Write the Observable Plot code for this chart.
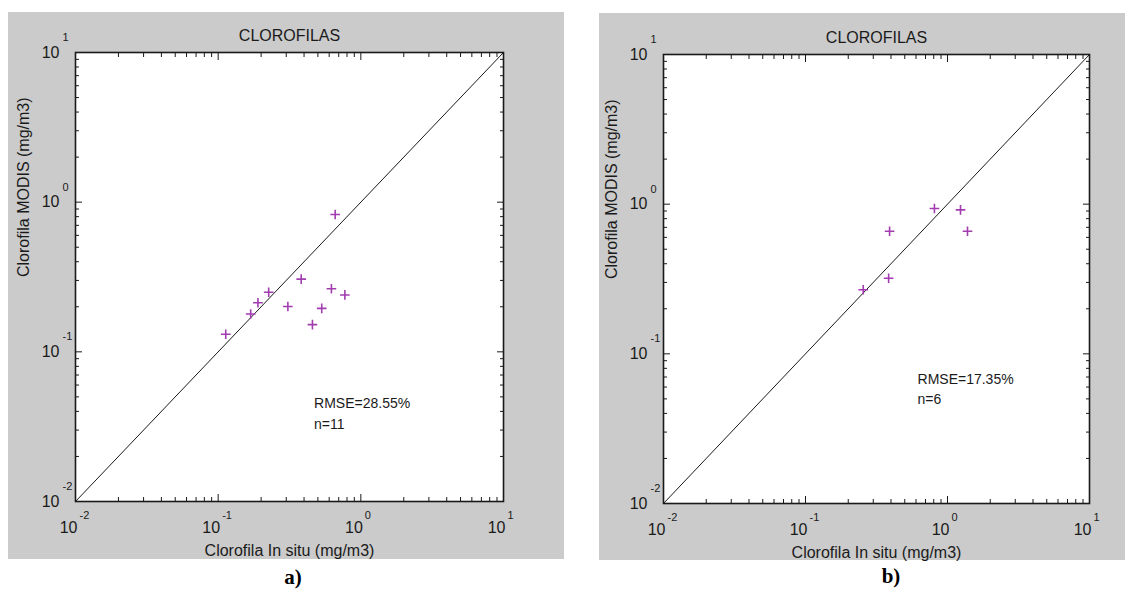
<!DOCTYPE html>
<html>
<head>
<meta charset="utf-8">
<script src="https://cdn.jsdelivr.net/npm/d3@7"></script>
<script src="https://cdn.jsdelivr.net/npm/@observablehq/plot@0.6"></script>
<style>
  html, body { margin: 0; padding: 0; background: #ffffff; }
  #wrap { position: relative; width: 1125px; height: 604px; overflow: hidden; }
  .panel { position: absolute; background: #cbcbcb; }
  .panel svg { display: block; background: transparent; }
  .tag { position: absolute; font-family: "Liberation Serif", "DejaVu Serif", serif; font-weight: bold; font-size: 21px; color: #000; transform: translate(-50%, -50%); }
</style>
</head>
<body>
<div id="wrap">
  <div id="pa" class="panel" style="left:8px; top:12px; width:556px; height:547px;"></div>
  <div id="pb" class="panel" style="left:599px; top:13px; width:526px; height:547px;"></div>
  <div class="tag" style="left:293px; top:577px;">a)</div>
  <div class="tag" style="left:891px; top:576px;">b)</div>
</div>
<script>
// ---- data ----
const insituA = [0.661, 0.382, 0.622, 0.773, 0.226, 0.190, 0.169, 0.308, 0.532, 0.458, 0.113];
const modisA  = [0.828, 0.306, 0.264, 0.240, 0.250, 0.213, 0.179, 0.201, 0.195, 0.152, 0.131];
const insituB = [0.809, 1.235, 1.383, 0.391, 0.385, 0.255];
const modisB  = [0.935, 0.916, 0.659, 0.659, 0.320, 0.268];

const majorTicks = [0.01, 0.1, 1, 10];
const tickExponents = ["-2", "-1", "0", "1"];
const minorMultipliers = [2, 3, 4, 5, 6, 7, 8, 9];

const titleText = "CLOROFILAS";
const xTitle = "Clorofila In situ (mg/m3)";
const yTitle = "Clorofila MODIS (mg/m3)";
const statsA = ["RMSE=28.55%", "n=11"];
const statsB = ["RMSE=17.35%", "n=6"];
// annotation anchor positions in data units [x, y] for each line
const statsPosA = [[0.47, 0.045], [0.47, 0.0327]];
const statsPosB = [[0.615, 0.0678], [0.615, 0.0492]];

const domain = [0.01, 10];
const diag = [0.01, 10];

const minorTicks = [];
for (const m of majorTicks.slice(0, -1)) for (const k of minorMultipliers) minorTicks.push(m * k);

const FONT = "Liberation Sans, Arial, sans-serif";
const INK = "#1a1a1a";
const PLUS = "#a23db0";
const MAJ = 7, MIN = 4;

function panel(xs, ys, stats, statsPos, opts) {
  const pts = xs.map((x, i) => ({x, y: ys[i]}));
  const majors = majorTicks.map((v, i) => ({v, e: tickExponents[i]}));
  const statRows = stats.map((t, i) => ({t, x: statsPos[i][0], y: statsPos[i][1]}));
  const ts = {stroke: INK, strokeWidth: 1, tickFormat: () => "", label: null, tickPadding: 0};
  return Plot.plot({
    width: opts.width,
    height: opts.height,
    marginLeft: opts.ml, marginRight: opts.mr, marginTop: opts.mt, marginBottom: opts.mb,
    style: {background: "transparent", fontFamily: FONT, color: INK, overflow: "visible"},
    x: {type: "log", domain},
    y: {type: "log", domain},
    marks: [
      Plot.frame({fill: "white"}),
      // ticks on all four sides, shifted so they point inward
      Plot.axisX({...ts, anchor: "bottom", ticks: majorTicks, tickSize: MAJ, dy: -MAJ}),
      Plot.axisX({...ts, anchor: "bottom", ticks: minorTicks, tickSize: MIN, dy: -MIN}),
      Plot.axisX({...ts, anchor: "top", ticks: majorTicks, tickSize: MAJ, dy: MAJ}),
      Plot.axisX({...ts, anchor: "top", ticks: minorTicks, tickSize: MIN, dy: MIN}),
      Plot.axisY({...ts, anchor: "left", ticks: majorTicks, tickSize: MAJ, dx: MAJ}),
      Plot.axisY({...ts, anchor: "left", ticks: minorTicks, tickSize: MIN, dx: MIN}),
      Plot.axisY({...ts, anchor: "right", ticks: majorTicks, tickSize: MAJ, dx: -MAJ}),
      Plot.axisY({...ts, anchor: "right", ticks: minorTicks, tickSize: MIN, dx: -MIN}),
      Plot.frame({stroke: INK, strokeWidth: 1.6}),
      // 1:1 line
      Plot.line(diag, {x: d => d, y: d => d, stroke: INK, strokeWidth: 1}),
      // points
      Plot.dot(pts, {x: "x", y: "y", symbol: "plus", r: 3.2, stroke: PLUS, strokeWidth: 1.6}),
      // x tick labels: 10 with superscript exponent
      Plot.text(majors, {x: "v", frameAnchor: "bottom", text: () => "10", textAnchor: "end", dx: 2, dy: 31, fontSize: 16, fill: INK}),
      Plot.text(majors, {x: "v", frameAnchor: "bottom", text: "e", textAnchor: "start", dx: 4, dy: 17, fontSize: 11, fill: INK}),
      // y tick labels
      Plot.text(majors, {y: "v", frameAnchor: "left", text: () => "10", textAnchor: "end", dx: -16, fontSize: 16, fill: INK}),
      Plot.text(majors, {y: "v", frameAnchor: "left", text: "e", textAnchor: "start", dx: -13, dy: -15, fontSize: 11, fill: INK}),
      // title and axis titles
      Plot.text([titleText], {frameAnchor: "top", text: d => d, dy: -23, fontSize: 16, fill: INK}),
      Plot.text([xTitle], {frameAnchor: "bottom", text: d => d, dy: 54, fontSize: 16, fill: INK}),
      Plot.text([yTitle], {frameAnchor: "left", text: d => d, dx: -52, rotate: -90, fontSize: 16, fill: INK}),
      // statistics annotation
      Plot.text(statRows, {x: "x", y: "y", text: "t", textAnchor: "start", fontSize: 14, fill: INK})
    ]
  });
}

document.getElementById("pa").appendChild(
  panel(insituA, modisA, statsA, statsPosA, {width: 556, height: 547, ml: 67, mr: 61, mt: 40, mb: 58})
);
document.getElementById("pb").appendChild(
  panel(insituB, modisB, statsB, statsPosB, {width: 526, height: 547, ml: 64, mr: 36, mt: 41, mb: 57})
);
</script>
</body>
</html>
